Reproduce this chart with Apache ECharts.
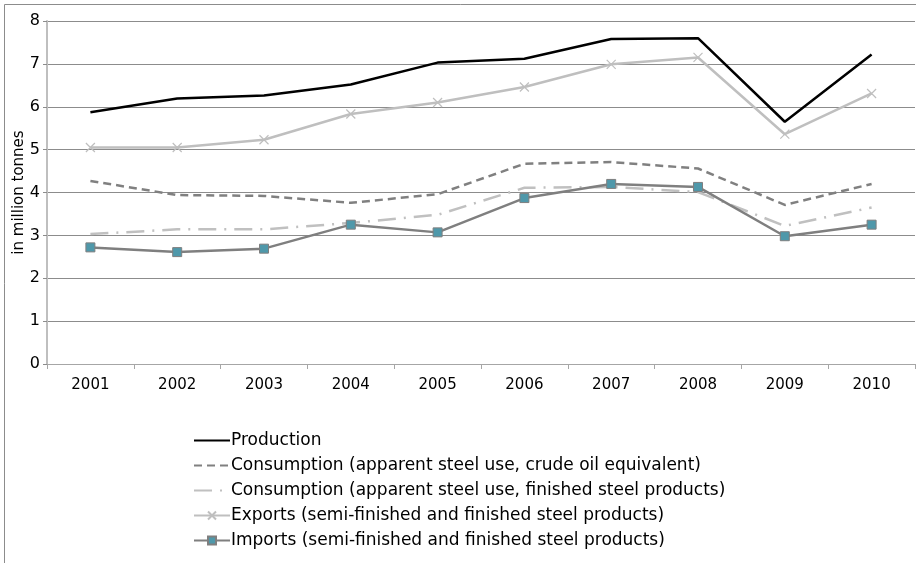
<!DOCTYPE html>
<html>
<head>
<meta charset="utf-8">
<script src="https://cdn.jsdelivr.net/npm/echarts@6/dist/echarts.min.js"></script>
<style>
  html, body { margin: 0; padding: 0; background: #fff; }
  #chart { width: 916px; height: 563px; }
</style>
</head>
<body>
<div id="chart"></div>
<script>
var years = ['2001', '2002', '2003', '2004', '2005', '2006', '2007', '2008', '2009', '2010'];
var production = [5.87, 6.19, 6.26, 6.52, 7.03, 7.12, 7.58, 7.60, 5.65, 7.22];
var consCrude = [4.27, 3.94, 3.92, 3.76, 3.96, 4.67, 4.71, 4.56, 3.71, 4.20];
var consFinished = [3.03, 3.14, 3.14, 3.29, 3.48, 4.11, 4.13, 4.01, 3.22, 3.65];
var exportsV = [5.05, 5.05, 5.23, 5.83, 6.10, 6.46, 6.99, 7.15, 5.36, 6.31];
var importsV = [2.72, 2.61, 2.69, 3.25, 3.07, 3.87, 4.20, 4.13, 2.98, 3.25];

var names = [
    'Production',
    'Consumption (apparent steel use, crude oil equivalent)',
    'Consumption (apparent steel use, finished steel products)',
    'Exports (semi-finished and finished steel products)',
    'Imports (semi-finished and finished steel products)'
];

var font = '"DejaVu Sans", sans-serif';
var chart = echarts.init(document.getElementById('chart'));

var option = {
    animation: false,
    textStyle: { fontFamily: font },
    graphic: [
        { type: 'line', shape: { x1: 4.5, y1: 4.5, x2: 916, y2: 4.5 }, style: { stroke: '#8c8c8c', lineWidth: 1 } },
        { type: 'line', shape: { x1: 4.5, y1: 4.5, x2: 4.5, y2: 563 }, style: { stroke: '#8c8c8c', lineWidth: 1 } }
    ],
    grid: { left: 47, right: 1, top: 21, bottom: 199, outerBoundsMode: 'none', containLabel: false },
    legend: {
        orient: 'vertical',
        left: 188,
        top: 427,
        itemWidth: 36,
        itemHeight: 10,
        itemGap: 8,
        textStyle: { fontSize: 17, color: '#000', fontFamily: font, padding: [0, 0, 0, -4] },
        data: [
            // the lines with no markers get a hidden legend marker
            { name: names[0], itemStyle: { opacity: 0 } },
            { name: names[1], itemStyle: { opacity: 0 } },
            { name: names[2], itemStyle: { opacity: 0 } },
            { name: names[3] },
            { name: names[4] }
        ]
    },
    xAxis: {
        type: 'category',
        data: years,
        boundaryGap: true,
        axisLine: { lineStyle: { color: '#a6a6a6' } },
        axisTick: { show: true, length: 5, lineStyle: { color: '#a6a6a6' } },
        axisLabel: { fontSize: 15, color: '#000', margin: 14 }
    },
    yAxis: {
        type: 'value',
        min: 0,
        max: 8,
        interval: 1,
        name: 'in million tonnes',
        nameLocation: 'middle',
        nameGap: 20,
        nameMoveOverlap: false,
        nameTextStyle: { fontSize: 15, color: '#000' },
        axisLine: { show: true, lineStyle: { color: '#bfbfbf', width: 2 } },
        axisTick: { show: true, length: 4, lineStyle: { color: '#8c8c8c' } },
        axisLabel: { fontSize: 16, color: '#000', margin: 7 },
        splitLine: { lineStyle: { color: '#8c8c8c', width: 1 } }
    },
    series: [
        {
            name: names[0],
            type: 'line',
            data: production,
            symbol: 'none',
            itemStyle: { color: '#000' },
            lineStyle: { color: '#000', width: 2.5 }
        },
        {
            name: names[1],
            type: 'line',
            data: consCrude,
            symbol: 'none',
            itemStyle: { color: '#808080' },
            lineStyle: { color: '#808080', width: 2.5, type: [8, 5] }
        },
        {
            name: names[2],
            type: 'line',
            data: consFinished,
            symbol: 'none',
            itemStyle: { color: '#c0c0c0' },
            lineStyle: { color: '#c0c0c0', width: 2.5, type: [18, 8, 2, 8] }
        },
        {
            name: names[3],
            type: 'line',
            data: exportsV,
            symbol: 'path://M0,0L10,10M10,0L0,10',
            symbolSize: 9,
            itemStyle: { color: 'none', borderColor: '#bfbfbf', borderWidth: 1.2 },
            lineStyle: { color: '#bfbfbf', width: 2.5 }
        },
        {
            name: names[4],
            type: 'line',
            data: importsV,
            symbol: 'rect',
            symbolSize: 9,
            itemStyle: { color: '#4f98aa', borderColor: '#7f7f7f', borderWidth: 1 },
            lineStyle: { color: '#7f7f7f', width: 2.5 }
        }
    ]
};

chart.setOption(option);
</script>
</body>
</html>
